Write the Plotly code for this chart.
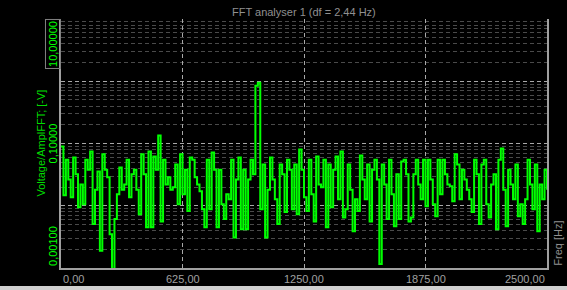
import math
import plotly.graph_objects as go

# ---- data ----
df_hz = 12.5
amplitude = [
    0.0895, 0.0147, 0.055, 0.0265, 0.0137, 0.0597, 0.032, 0.0095, 0.022, 0.0106,
    0.055, 0.038, 0.0745, 0.0051, 0.018, 0.0356, 0.0019, 0.067, 0.038, 0.0286,
    0.0035, 0.00095, 0.0061, 0.0153, 0.0413, 0.018, 0.022, 0.055, 0.0137, 0.032,
    0.038, 0.018, 0.0073, 0.067, 0.032, 0.0045, 0.0745, 0.0045, 0.062, 0.038,
    0.134, 0.0056, 0.055, 0.022, 0.0286, 0.018, 0.0198, 0.046, 0.0106, 0.067,
    0.0153, 0.038, 0.0082, 0.0597, 0.055, 0.0286, 0.022, 0.0171, 0.0088, 0.0045,
    0.055, 0.0088, 0.0718, 0.038, 0.0045, 0.038, 0.0106, 0.0061, 0.0153, 0.0127,
    0.055, 0.0031, 0.0265, 0.0597, 0.0042, 0.038, 0.0042, 0.0265, 0.055, 0.032,
    0.85, 0.95, 0.0088, 0.046, 0.0031, 0.018, 0.0597, 0.0265, 0.0127, 0.0051,
    0.046, 0.032, 0.0079, 0.055, 0.038, 0.0088, 0.046, 0.0073, 0.080, 0.038,
    0.0137, 0.0082, 0.055, 0.0153, 0.0056, 0.062, 0.022, 0.0198, 0.055, 0.0045,
    0.046, 0.0095, 0.038, 0.062, 0.0127, 0.0745, 0.0065, 0.0088, 0.046, 0.018,
    0.0039, 0.0127, 0.0082, 0.0643, 0.0265, 0.0127, 0.046, 0.0056, 0.038, 0.055,
    0.0265, 0.00116, 0.046, 0.022, 0.0061, 0.055, 0.0153, 0.0047, 0.032, 0.0061,
    0.0515, 0.055, 0.032, 0.0056, 0.0065, 0.032, 0.055, 0.022, 0.0127, 0.055,
    0.0098, 0.055, 0.0265, 0.0106, 0.0068, 0.055, 0.0153, 0.055, 0.032, 0.022,
    0.0205, 0.0118, 0.067, 0.046, 0.0127, 0.038, 0.0265, 0.018, 0.0127, 0.0079,
    0.055, 0.032, 0.0051, 0.046, 0.055, 0.0106, 0.0065, 0.022, 0.032, 0.0042,
    0.055, 0.083, 0.018, 0.0047, 0.038, 0.022, 0.0127, 0.046, 0.0068, 0.0106,
    0.0051, 0.0127, 0.055, 0.022, 0.0088, 0.046, 0.0039, 0.022, 0.0127, 0.038,
    0.018,
]
frequency = [i * df_hz for i in range(len(amplitude))]

x_tick_vals = [0, 625, 1250, 1875, 2500]
x_tick_text = ["0,00", "625,00", "1250,00", "1875,00", "2500,00"]
y_tick_vals = [10, 0.1, 0.001]
y_tick_text = ["10,00000", "0,10000", "0,00100"]

title_text = "FFT analyser 1 (df = 2,44 Hz)"
y_title = "Voltage/AmplFFT; [-V]"
x_title = "Freq [Hz]"

FONT = "Liberation Sans, Arial, sans-serif"
GRAY = "#a0a0a0"
GREEN = "#00ff00"

fig = go.Figure()
fig.add_trace(go.Scatter(
    x=frequency, y=amplitude, mode="lines",
    line=dict(color=GREEN, width=2, shape="hv"),
    hoverinfo="skip", showlegend=False,
))

fig.update_layout(
    width=567, height=290,
    margin=dict(l=61, r=20, t=19, b=22, pad=0),
    paper_bgcolor="#000000", plot_bgcolor="#000000",
    font=dict(family=FONT, size=11, color=GRAY),
    showlegend=False,
)
fig.update_xaxes(
    range=[0, 2500], tickvals=x_tick_vals, showticklabels=False,
    showgrid=True, gridcolor="#a8a8a8", gridwidth=1, griddash="4px,3px",
    showline=True, linecolor="#a0a0a0", linewidth=2, mirror=False,
    zeroline=False, ticks="",
)
fig.update_yaxes(
    type="log", range=[-3, 1], dtick=1, showticklabels=False,
    showgrid=True, gridcolor="#a8a8a8", gridwidth=1, griddash="4px,3px",
    minor=dict(dtick="D1", showgrid=True, gridcolor="#4a4a4a", griddash="4px,3px", gridwidth=1, ticks=""),
    showline=True, linecolor="#a0a0a0", linewidth=2, mirror=True,
    zeroline=False, ticks="",
)

annotations = []
# x tick labels
for i, (v, t) in enumerate(zip(x_tick_vals, x_tick_text)):
    anchor = "left" if i == 0 else ("right" if i == len(x_tick_vals) - 1 else "center")
    annotations.append(dict(
        x=v, y=-0.044, xref="x", yref="paper", text=t, showarrow=False,
        xanchor=anchor, yanchor="middle", font=dict(color=GRAY, size=11, family=FONT),
    ))
# y tick labels (rotated)
for i, (v, t) in enumerate(zip(y_tick_vals, y_tick_text)):
    ya = "top" if i == 0 else ("bottom" if i == len(y_tick_vals) - 1 else "middle")
    a = dict(
        x=-0.0165, y=math.log10(v), xref="paper", yref="y", text=t, showarrow=False,
        textangle=-90, xanchor="center", yanchor=ya,
        font=dict(color=GREEN, size=11, family=FONT),
    )
    if i == 0:
        a.update(bordercolor="#808080", borderwidth=1, borderpad=1)
    annotations.append(a)

annotations.append(dict(
    x=0.5, y=1.028, xref="paper", yref="paper", text=title_text, showarrow=False,
    xanchor="center", yanchor="middle", font=dict(color="#909090", size=11, family=FONT),
))
annotations.append(dict(
    x=-0.043, y=0.5, xref="paper", yref="paper", text=y_title, showarrow=False,
    textangle=-90, xanchor="center", yanchor="middle",
    font=dict(color="#00dd00", size=11, family=FONT),
))
annotations.append(dict(
    x=1.021, y=0, xref="paper", yref="paper", text=x_title, showarrow=False,
    textangle=-90, xanchor="center", yanchor="bottom",
    font=dict(color="#909090", size=11, family=FONT),
))
fig.update_layout(annotations=annotations)

# light window border at the very bottom
fig.add_shape(type="rect", xref="paper", yref="paper",
              x0=-0.2, x1=1.1, y0=-0.09, y1=-0.0725,
              fillcolor="#d0d0d0", line=dict(width=0), layer="above")

fig.write_html("out.html")
